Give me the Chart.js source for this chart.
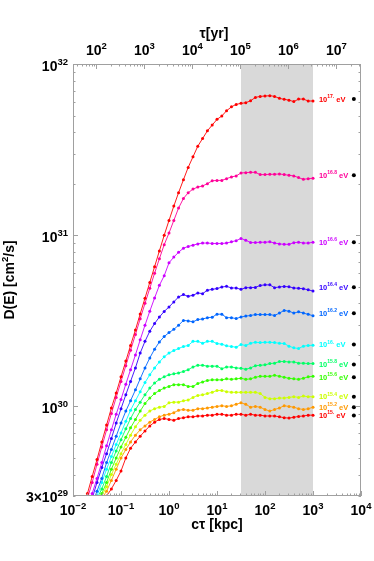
<!DOCTYPE html>
<html>
<head>
<meta charset="utf-8">
<script src="https://cdn.jsdelivr.net/npm/chart.js@4.4.0/dist/chart.umd.min.js"></script>
<style>
  html, body { margin: 0; padding: 0; background: #fff; }
  #wrap { position: relative; width: 374px; height: 561px; }
</style>
</head>
<body>
<div id="wrap"><canvas id="chart"></canvas></div>
<script>
// c*tau in kpc, 10 points per decade
const ctKpc = [0.0158, 0.02, 0.0251, 0.0316, 0.0398, 0.0501, 0.0631, 0.0794, 0.1, 0.126,
  0.158, 0.2, 0.251, 0.316, 0.398, 0.501, 0.631, 0.794, 1, 1.26,
  1.58, 2, 2.51, 3.16, 3.98, 5.01, 6.31, 7.94, 10, 12.6,
  15.8, 20, 25.1, 31.6, 39.8, 50.1, 63.1, 79.4, 100, 126,
  158, 200, 251, 316, 398, 501, 631, 794, 1000];

// D(E) in units of 1e30 cm^2/s
const UNIT = 1e30;
const d17 = [0.25, 0.31, 0.39, 0.49, 0.62, 0.78, 0.98, 1.2, 1.49, 1.84, 2.27, 2.8, 3.47, 4.29, 5.3, 6.55, 8.1, 10.0, 12.2, 14.8,
  17.7, 21.1, 24.9, 28.7, 33.1, 36.7, 40.7, 44.0, 47.5, 49.7, 53.3, 56.2, 58.1, 58.9, 59.4, 61.0, 63.8, 64.7, 65.0, 65.3,
  64.7, 63.0, 62.2, 61.5, 60.3, 62.4, 62.4, 60.8, 60.8];
const d168 = [0.23, 0.29, 0.36, 0.46, 0.58, 0.73, 0.91, 1.13, 1.4, 1.73, 2.13, 2.63, 3.25, 4.0, 4.9, 6.0, 7.3, 8.8, 10.3, 12.2,
  14.4, 16.4, 17.7, 18.6, 19.1, 19.4, 20.0, 20.8, 20.9, 20.9, 21.4, 21.9, 22.2, 23.1, 23.2, 23.3, 23.3, 22.6, 22.6, 22.7,
  22.7, 22.8, 22.6, 22.4, 22.2, 21.7, 21.2, 21.4, 21.5];
const d166 = [0.2, 0.25, 0.31, 0.38, 0.47, 0.59, 0.73, 0.9, 1.1, 1.35, 1.64, 2.0, 2.45, 2.98, 3.6, 4.3, 5.1, 5.8, 6.9, 7.45,
  7.95, 8.4, 8.6, 8.75, 8.9, 9.0, 9.0, 8.95, 8.95, 8.95, 9.0, 9.15, 9.3, 9.57, 9.35, 9.06, 9.06, 9.1, 9.1, 9.15,
  9.0, 8.9, 8.85, 8.85, 9.05, 9.1, 9.0, 9.0, 9.1];
const d164 = [0.2, 0.24, 0.29, 0.36, 0.44, 0.53, 0.65, 0.8, 0.97, 1.17, 1.4, 1.68, 2.05, 2.4, 2.75, 3.05, 3.33, 3.59, 3.81, 4.08,
  4.36, 4.50, 4.40, 4.46, 4.60, 4.56, 4.77, 4.83, 4.88, 4.98, 5.03, 4.92, 4.92, 4.83, 4.94, 4.94, 4.96, 5.09, 5.13, 5.13,
  4.94, 4.99, 5.02, 5.0, 4.92, 4.90, 4.87, 4.80, 4.72];
const d162 = [0.19, 0.23, 0.27, 0.32, 0.38, 0.47, 0.56, 0.67, 0.8, 0.94, 1.08, 1.25, 1.45, 1.68, 1.92, 2.16, 2.38, 2.56, 2.7, 2.82,
  2.98, 3.18, 3.16, 3.12, 3.22, 3.24, 3.3, 3.32, 3.46, 3.46, 3.3, 3.3, 3.26, 3.33, 3.37, 3.4, 3.44, 3.44, 3.44, 3.44,
  3.40, 3.51, 3.64, 3.60, 3.51, 3.57, 3.51, 3.45, 3.39];
const d160 = [0.19, 0.22, 0.26, 0.3, 0.36, 0.43, 0.51, 0.6, 0.7, 0.82, 0.95, 1.08, 1.22, 1.38, 1.53, 1.68, 1.82, 1.95, 2.05, 2.12,
  2.18, 2.24, 2.27, 2.40, 2.40, 2.34, 2.40, 2.40, 2.33, 2.31, 2.26, 2.24, 2.22, 2.30, 2.27, 2.34, 2.37, 2.36, 2.37, 2.37,
  2.36, 2.34, 2.33, 2.25, 2.20, 2.18, 2.25, 2.27, 2.28];
const d158 = [0.19, 0.22, 0.25, 0.29, 0.33, 0.39, 0.47, 0.55, 0.64, 0.74, 0.85, 0.96, 1.06, 1.17, 1.28, 1.37, 1.44, 1.49, 1.53, 1.55,
  1.57, 1.6, 1.64, 1.70, 1.74, 1.74, 1.72, 1.72, 1.72, 1.66, 1.70, 1.70, 1.68, 1.67, 1.65, 1.68, 1.73, 1.74, 1.75, 1.78,
  1.79, 1.83, 1.83, 1.82, 1.82, 1.79, 1.79, 1.78, 1.78];
const d156 = [0.19, 0.22, 0.25, 0.28, 0.31, 0.36, 0.43, 0.5, 0.58, 0.66, 0.75, 0.84, 0.94, 1.04, 1.12, 1.19, 1.24, 1.28, 1.31, 1.34,
  1.34, 1.34, 1.31, 1.31, 1.36, 1.39, 1.42, 1.43, 1.43, 1.43, 1.45, 1.44, 1.45, 1.46, 1.44, 1.45, 1.48, 1.50, 1.50, 1.50,
  1.52, 1.50, 1.48, 1.46, 1.45, 1.44, 1.46, 1.49, 1.50];
const d154 = [0.19, 0.21, 0.24, 0.27, 0.3, 0.34, 0.4, 0.46, 0.53, 0.6, 0.68, 0.76, 0.83, 0.89, 0.94, 0.97, 0.99, 1.0, 1.05, 1.06,
  1.06, 1.08, 1.09, 1.13, 1.16, 1.17, 1.19, 1.21, 1.24, 1.24, 1.22, 1.21, 1.21, 1.21, 1.21, 1.21, 1.21, 1.19, 1.13, 1.11,
  1.11, 1.12, 1.12, 1.13, 1.14, 1.13, 1.15, 1.14, 1.14];
const d152 = [0.19, 0.21, 0.24, 0.26, 0.29, 0.32, 0.37, 0.43, 0.5, 0.56, 0.62, 0.68, 0.73, 0.77, 0.81, 0.84, 0.87, 0.89, 0.9, 0.92,
  0.95, 0.96, 0.95, 0.95, 0.97, 0.97, 0.98, 0.99, 1.0, 1.01, 1.0, 1.01, 1.03, 1.05, 1.03, 0.99, 1.0, 0.99, 0.96, 0.94,
  0.96, 0.98, 1.01, 1.0, 0.99, 0.97, 0.96, 0.97, 0.99];
const d150 = [0.18, 0.2, 0.22, 0.24, 0.27, 0.3, 0.33, 0.37, 0.42, 0.5, 0.57, 0.62, 0.67, 0.72, 0.77, 0.81, 0.84, 0.85, 0.84, 0.83,
  0.85, 0.86, 0.87, 0.87, 0.88, 0.88, 0.89, 0.89, 0.9, 0.9, 0.89, 0.89, 0.9, 0.9, 0.89, 0.9, 0.89, 0.89, 0.88, 0.88,
  0.88, 0.87, 0.86, 0.855, 0.865, 0.875, 0.88, 0.89, 0.89];

// log10(E/eV) of each curve, label exponent text, and the curves themselves
const energies = [17, 16.8, 16.6, 16.4, 16.2, 16, 15.8, 15.6, 15.4, 15.2, 15];
const energyText = ["17.", "16.8", "16.6", "16.4", "16.2", "16.", "15.8", "15.6", "15.4", "15.2", "15."];
const curves = [d17, d168, d166, d164, d162, d160, d158, d156, d154, d152, d150];

// black markers to the right of the labels
const markerKpc = 7100;
const markerD = [62.4, 22.4, 9.1, 4.97, 3.5, 2.3, 1.76, 1.48, 1.14, 0.99, 0.886];

// axes
const xTickExp = [-2, -1, 0, 1, 2, 3, 4];
const tauTickExp = [2, 3, 4, 5, 6, 7];
const yTickExp = [30, 31, 32];
const KPC_PER_YR = 3.066e-4;
const bandKpc = [31.6, 1000];
const labelKpc = 1330;

const FONT = '"Liberation Sans", Arial, Helvetica, sans-serif';

function hueColor(e) {
  return `hsl(${(180 * (e - 15)) % 360}, 100%, 50%)`;
}

function powText(ctx, base, exp, tail, x, y, size, expSize, rise, align) {
  ctx.font = `bold ${size}px ${FONT}`;
  const wb = ctx.measureText(base).width;
  const wt = tail ? ctx.measureText(tail).width : 0;
  ctx.font = `bold ${expSize}px ${FONT}`;
  const we = ctx.measureText(exp).width;
  const w = wb + we + wt;
  let left = x;
  if (align === 'center') left = x - w / 2;
  if (align === 'right') left = x - w;
  ctx.textAlign = 'left';
  ctx.textBaseline = 'alphabetic';
  ctx.font = `bold ${size}px ${FONT}`;
  ctx.fillText(base, left, y);
  if (tail) ctx.fillText(tail, left + wb + we, y);
  ctx.font = `bold ${expSize}px ${FONT}`;
  ctx.fillText(exp, left + wb, y - rise);
}

const framePlugin = {
  id: 'frame',
  beforeDatasetsDraw(chart) {
    const { ctx, chartArea: a, scales: { x } } = chart;
    const x0 = x.getPixelForValue(bandKpc[0]);
    const x1 = x.getPixelForValue(bandKpc[1]);
    ctx.save();
    ctx.fillStyle = '#d9d9d9';
    ctx.fillRect(x0, a.top, x1 - x0, a.bottom - a.top);
    ctx.restore();
  },
  afterDatasetsDraw(chart) {
    const { ctx, chartArea: a, scales: { x, y } } = chart;
    ctx.save();
    ctx.strokeStyle = '#a0a0a0';
    ctx.lineWidth = 1;
    ctx.strokeRect(a.left + 0.5, a.top + 0.5, a.right - a.left - 1, a.bottom - a.top - 1);

    const tick = (x1, y1, x2, y2) => {
      ctx.beginPath();
      ctx.moveTo(x1, y1);
      ctx.lineTo(x2, y2);
      ctx.stroke();
    };
    // bottom axis ticks (kpc)
    for (let e = -2; e <= 4; e++) {
      for (let m = 1; m <= 9; m++) {
        const v = m * Math.pow(10, e);
        if (v > 1e4) break;
        const px = Math.round(x.getPixelForValue(v)) + 0.5;
        const len = m === 1 ? 5 : 2.5;
        tick(px, a.bottom, px, a.bottom - len);
      }
    }
    // top axis ticks (yr)
    for (let e = 1; e <= 7; e++) {
      for (let m = 1; m <= 9; m++) {
        const v = m * Math.pow(10, e) * KPC_PER_YR;
        if (v < 0.01 || v > 1e4) continue;
        const px = Math.round(x.getPixelForValue(v)) + 0.5;
        const len = m === 1 ? 5 : 2.5;
        tick(px, a.top, px, a.top + len);
      }
    }
    // left and right ticks
    for (let e = 29; e <= 32; e++) {
      for (let m = 1; m <= 9; m++) {
        const v = m * Math.pow(10, e);
        if (v < 3e29 || v > 1e32) continue;
        const py = Math.round(y.getPixelForValue(v)) + 0.5;
        const len = m === 1 ? 5 : 2.5;
        tick(a.left, py, a.left + len, py);
        tick(a.right, py, a.right - len, py);
      }
    }

    ctx.fillStyle = '#000';
    // bottom labels
    xTickExp.forEach(e => {
      const px = x.getPixelForValue(Math.pow(10, e));
      powText(ctx, '10', String(e).replace('-', '\u2212'), '', px, 515, 14, 9.5, 6, 'center');
    });
    // top labels
    tauTickExp.forEach(e => {
      const px = x.getPixelForValue(Math.pow(10, e) * KPC_PER_YR);
      powText(ctx, '10', String(e), '', px, 55, 14, 9.5, 6, 'center');
    });
    // left labels
    yTickExp.forEach(e => {
      const py = y.getPixelForValue(Math.pow(10, e));
      powText(ctx, '10', String(e), '', 68, py + 6.5, 14, 9.5, 6, 'right');
    });
    powText(ctx, '3\u00d710', '29', '', 68, y.getPixelForValue(3e29) + 6, 14, 9.5, 6, 'right');

    // axis titles
    ctx.font = `bold 14px ${FONT}`;
    ctx.textAlign = 'center';
    ctx.fillText('c\u03c4 [kpc]', (a.left + a.right) / 2, 529);
    ctx.fillText('\u03c4[yr]', 214, 38);
    ctx.save();
    ctx.translate(14, 280);
    ctx.rotate(-Math.PI / 2);
    powText(ctx, 'D(E) [cm', '2', '/s]', 0, 0, 14, 9.5, 6, 'center');
    ctx.restore();

    // curve labels
    const lx = x.getPixelForValue(labelKpc);
    energies.forEach((e, i) => {
      ctx.fillStyle = hueColor(e);
      const py = y.getPixelForValue(markerD[i] * UNIT);
      powText(ctx, '10', energyText[i], ' eV', lx, py + 2.5, 7.5, 5, 3.5, 'left');
    });
    ctx.restore();
  }
};

const datasets = curves.map((vals, i) => ({
  data: vals.map((v, j) => ({ x: ctKpc[j], y: v * UNIT })),
  borderColor: hueColor(energies[i]),
  backgroundColor: hueColor(energies[i]),
  borderWidth: 0.9,
  pointRadius: 1.5,
  pointBorderWidth: 0,
  tension: 0
}));
datasets.push({
  data: markerD.map(v => ({ x: markerKpc, y: v * UNIT })),
  showLine: false,
  borderColor: '#000',
  backgroundColor: '#000',
  pointRadius: 2,
  pointBorderWidth: 0
});

new Chart(document.getElementById('chart'), {
  type: 'line',
  data: { datasets },
  options: {
    responsive: true,
    maintainAspectRatio: false,
    animation: false,
    events: [],
    layout: { padding: { left: 73, right: 13, top: 64, bottom: 65 } },
    plugins: { legend: { display: false }, tooltip: { enabled: false } },
    scales: {
      x: { type: 'logarithmic', min: 0.01, max: 1e4, display: false },
      y: { type: 'logarithmic', min: 3e29, max: 1e32, display: false }
    }
  },
  plugins: [framePlugin]
});
</script>
</body>
</html>
